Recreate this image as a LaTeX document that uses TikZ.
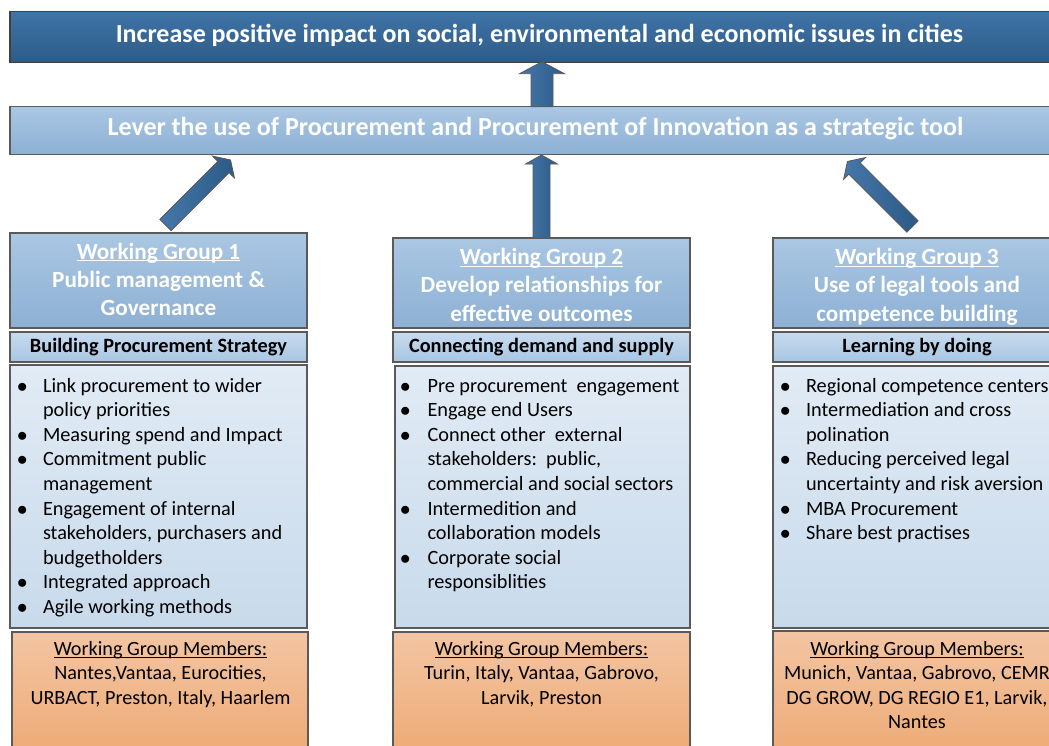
\documentclass[tikz,border=0pt]{standalone}
\usepackage{fontspec}
\setmainfont{Carlito}
\usetikzlibrary{calc}
\definecolor{topA}{HTML}{3F74A7}
\definecolor{topB}{HTML}{2D5B87}
\definecolor{levA}{HTML}{AAC7E3}
\definecolor{levB}{HTML}{8DB0D4}
\definecolor{subA}{HTML}{C7DBEE}
\definecolor{subB}{HTML}{A8C5E1}
\definecolor{bulA}{HTML}{E1EBF5}
\definecolor{bulB}{HTML}{C8DAEB}
\definecolor{orA}{HTML}{F3C5A3}
\definecolor{orB}{HTML}{EDA973}
\definecolor{arrA}{HTML}{4577AA}
\definecolor{arrB}{HTML}{2C5A86}
\definecolor{edge}{HTML}{5A5A5A}
\newcommand{\ulx}[1]{\setbox0\hbox{#1}\rlap{\rule[-2.2pt]{\wd0}{1.1pt}}\box0}
\newcommand{\bul}{$\bullet$}
\newcommand{\blist}[2]{\begin{tabular}[t]{@{}p{#1}@{}l@{}}#2\end{tabular}}
\newcommand{\ctext}[1]{\begin{tabular}[t]{@{}c@{}}#1\end{tabular}}
\newcommand{\blockarr}[6]{%
  \begin{scope}[shift={(#1)}, rotate=#2]
    \draw[arrowshape] (0,-#4/2) -- (#3-#6,-#4/2) -- (#3-#6,-#5/2) -- (#3,0)
      -- (#3-#6,#5/2) -- (#3-#6,#4/2) -- (0,#4/2) -- cycle;
  \end{scope}}
\tikzset{
  boxbase/.style={draw=edge, line width=1.1pt, inner sep=0pt, outer sep=0pt, anchor=north west},
  goalbox/.style={boxbase, draw=black!75, top color=topA, bottom color=topB},
  leverbox/.style={boxbase, top color=levA, bottom color=levB},
  headbox/.style={boxbase, top color=levA, bottom color=levB},
  subbox/.style={boxbase, top color=subA, bottom color=subB},
  bulbox/.style={boxbase, top color=bulA, bottom color=bulB},
  membox/.style={boxbase, top color=orA, bottom color=orB},
  arrowshape/.style={draw=edge, line width=0.8pt, left color=arrA, right color=arrB},
  txt/.style={inner sep=0pt, outer sep=0pt, anchor=base},
  bigtxt/.style={txt, text=white, font={\fontsize{26}{30}\selectfont\bfseries}},
  headtxt/.style={txt, text=white, font={\fontsize{23.2}{28.4}\selectfont\bfseries}},
  subtxt/.style={txt, font={\fontsize{20.3}{24}\selectfont\bfseries}},
  bultxt/.style={txt, anchor=base west, font={\fontsize{20.3}{24.6}\selectfont}},
  memtxt/.style={txt, font={\fontsize{20.2}{24.4}\selectfont}},
}
\begin{document}
\begin{tikzpicture}[x=1pt,y=1pt]
\useasboundingbox (0,0) rectangle (1049,-745);
\clip (0,0) rectangle (1049,-745);

% top banners
\node[goalbox, minimum width=1059pt, minimum height=51pt] (goal) at (10,-11.5) {};
\node[bigtxt] (goalt) at (539.5,-42.3) {Increase positive impact on social, environmental and economic issues in cities};
\node[leverbox, minimum width=1051pt, minimum height=47.5pt] (lever) at (10,-106.7) {};
\node[bigtxt] (levert) at (535.5,-135.7) {Lever the use of Procurement and Procurement of Innovation as a strategic tool};

% working group headers
\node[headbox, minimum width=297pt, minimum height=95pt] (wg1) at (10,-233) {};
\node[headbox, minimum width=297pt, minimum height=90pt] (wg2) at (393,-238) {};
\node[headbox, minimum width=295pt, minimum height=90pt] (wg3) at (773,-238) {};
\node[headtxt] (wg1t) at (158.5,-259) {\ctext{\ulx{Working Group 1}\\ Public management \&\\ Governance}};
\node[headtxt] (wg2t) at (541.5,-264.5) {\ctext{\ulx{Working Group 2}\\ Develop relationships for\\ effective outcomes}};
\node[headtxt] (wg3t) at (917,-264.5) {\ctext{\ulx{Working Group 3}\\ Use of legal tools and\\ competence building}};

% sub headings
\node[subbox, minimum width=297pt, minimum height=30pt] (s1) at (10,-332) {};
\node[subbox, minimum width=297pt, minimum height=30pt] (s2) at (393,-332) {};
\node[subbox, minimum width=295pt, minimum height=30pt] (s3) at (773,-332) {};
\node[subtxt] (s1t) at (158.5,-352) {Building Procurement Strategy};
\node[subtxt] (s2t) at (541.5,-352) {Connecting demand and supply};
\node[subtxt] (s3t) at (917,-352) {Learning by doing};

% bullet boxes
\node[bulbox, minimum width=297pt, minimum height=263pt] (b1) at (10,-365) {};
\node[bulbox, minimum width=295pt, minimum height=262pt] (b2) at (395,-366) {};
\node[bulbox, minimum width=295pt, minimum height=262pt] (b3) at (773,-366) {};
\node[bultxt] (b1t) at (17,-392) {\blist{26pt}{%
\bul & Link procurement to wider\\
 & policy priorities\\
\bul & Measuring spend and Impact\\
\bul & Commitment public\\
 & management\\
\bul & Engagement of internal\\
 & stakeholders, purchasers and\\
 & budgetholders\\
\bul & Integrated approach\\
\bul & Agile working methods}};
\node[bultxt] (b2t) at (400,-392) {\blist{27.5pt}{%
\bul & Pre procurement\ \ engagement\\
\bul & Engage end Users\\
\bul & Connect other\ \ external\\
 & stakeholders:\ \ public,\\
 & commercial and social sectors\\
\bul & Intermedition and\\
 & collaboration models\\
\bul & Corporate social\\
 & responsiblities}};
\node[bultxt] (b3t) at (780,-392) {\blist{26pt}{%
\bul & Regional competence centers\\
\bul & Intermediation and cross\\
 & polination\\
\bul & Reducing perceived legal\\
 & uncertainty and risk aversion\\
\bul & MBA Procurement\\
\bul & Share best practises}};

% member boxes
\node[membox, minimum width=296pt, minimum height=130pt] (m1) at (12,-632) {};
\node[membox, minimum width=297pt, minimum height=130pt] (m2) at (393,-632) {};
\node[membox, minimum width=295pt, minimum height=130pt] (m3) at (773,-631) {};
\node[memtxt] (m1t) at (160.5,-655.5) {\ctext{\ulx{Working Group Members:}\\ Nantes,Vantaa, Eurocities,\\ URBACT, Preston, Italy, Haarlem}};
\node[memtxt] (m2t) at (541.5,-655.5) {\ctext{\ulx{Working Group Members:}\\ Turin, Italy, Vantaa, Gabrovo,\\ Larvik, Preston}};
\node[memtxt] (m3t) at (917,-655.5) {\ctext{\ulx{Working Group Members:}\\ Munich, Vantaa, Gabrovo, CEMR\\ DG GROW, DG REGIO E1, Larvik,\\ Nantes}};

% block arrows
\coordinate (a0) at ($(lever.north west)+(532,0)$);
\coordinate (a2) at ($(wg2.north west)+(148.5,0)$);
\coordinate (a1) at ($(wg1.north west)+(155.5,8)$);
\coordinate (a3) at ($(wg3.north west)+(139.5,11.5)$);
\blockarr{a0}{90}{45}{22}{45}{12}
\blockarr{a2}{90}{83}{17}{32}{9}
\blockarr{a1}{45}{92}{16}{31}{10}
\blockarr{a3}{135}{92}{16}{31}{10}
\end{tikzpicture}
\end{document}
